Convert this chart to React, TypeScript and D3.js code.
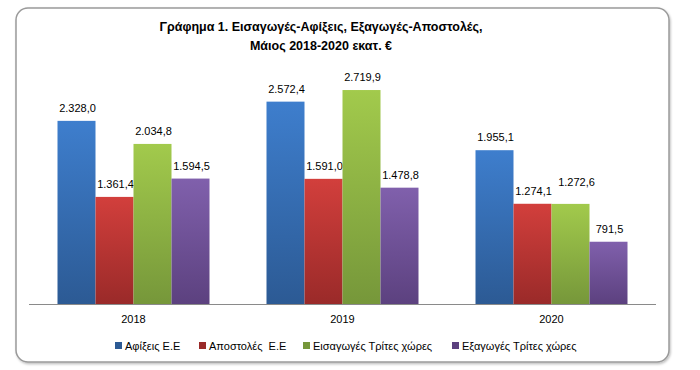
import React from "react";
import * as d3 from "d3";

const categories = ["2018", "2019", "2020"];
const seriesNames = ["Αφίξεις Ε.Ε", "Αποστολές  Ε.Ε", "Εισαγωγές Τρίτες χώρες", "Εξαγωγές Τρίτες χώρες"];
const afixeis = [2328.0, 2572.4, 1955.1];
const apostoles = [1361.4, 1591.0, 1274.1];
const eisagoges = [2034.8, 2719.9, 1272.6];
const exagoges = [1594.5, 1478.8, 791.5];
const titleLines = ["Γράφημα 1. Εισαγωγές-Αφίξεις, Εξαγωγές-Αποστολές,", "Μάιος 2018-2020 εκατ. €"];

const seriesValues = [afixeis, apostoles, eisagoges, exagoges];
const colors = [
  ["#3E7ECD", "#2C5A94"],
  ["#D23F3C", "#9A2A29"],
  ["#A2CA4C", "#76973A"],
  ["#8060AC", "#5C417F"],
];
const legendX = [115, 199, 303, 452];

const FONT = "'Liberation Sans', Arial, sans-serif";
const fmt = (v: number) => {
  const s = d3.format(",.1f")(v);
  return s.replace(/,/g, "#").replace(".", ",").replace(/#/g, ".");
};

export default function App() {
  const W = 700, H = 370;
  const x0 = d3.scaleBand().domain(categories).range([29, 656]).paddingInner(0).paddingOuter(0);
  const groupW = 152;
  const x1 = d3.scaleBand().domain(seriesNames).range([0, groupW]).padding(0);
  const y = d3.scaleLinear().domain([0, 3000]).range([304, 68]);
  const labelW = 37;

  return (
    <svg width={W} height={H} style={{ position: "absolute", left: 0, top: 0 }}>
      <defs>
        {colors.map((c, i) => (
          <linearGradient key={i} id={`g${i}`} x1="0" y1="0" x2="0" y2="1">
            <stop offset="0%" stopColor={c[0]} />
            <stop offset="100%" stopColor={c[1]} />
          </linearGradient>
        ))}
        <filter id="sh" x="-5%" y="-5%" width="110%" height="110%">
          <feDropShadow dx="1" dy="1.5" stdDeviation="1" floodColor="#000" floodOpacity="0.25" />
        </filter>
      </defs>
      <rect x={0} y={0} width={W} height={H} fill="#fff" />
      <rect x={16} y={8} width={653} height={354} rx={12} ry={12} fill="#fff" stroke="#9a9a9a" strokeWidth={1.5} filter="url(#sh)" />
      {titleLines.map((t, i) => (
        <text key={i} x={321} y={31 + i * 19} textAnchor="middle" fontFamily={FONT} fontWeight="bold" fontSize={12.5} fill="#000">
          {t}
        </text>
      ))}
      {categories.map((cat, ci) => {
        const gx = (x0(cat) as number) + (x0.bandwidth() - groupW) / 2;
        // compute label positions with a simple overlap-avoidance rule
        const labels: { x: number; y: number }[] = [];
        seriesNames.forEach((s, si) => {
          const v = seriesValues[si][ci];
          const bx = gx + (x1(s) as number);
          let lx = bx + x1.bandwidth() / 2 + 1;
          let ly = y(v) - 9;
          const prev = labels[si - 1];
          if (prev && Math.abs(lx - prev.x) < labelW + 3 && Math.abs(ly - prev.y) < 10) {
            lx += 5;
            ly = prev.y - 9;
          }
          labels.push({ x: lx, y: ly });
        });
        return (
          <g key={cat}>
            {seriesNames.map((s, si) => {
              const v = seriesValues[si][ci];
              const bx = gx + (x1(s) as number);
              const by = y(v);
              return (
                <g key={s}>
                  <rect x={bx} y={by} width={x1.bandwidth()} height={y(0) - by} fill={`url(#g${si})`} />
                  <text x={labels[si].x} y={labels[si].y} textAnchor="middle" fontFamily={FONT} fontSize={11} fill="#000">
                    {fmt(v)}
                  </text>
                </g>
              );
            })}
            <text x={(x0(cat) as number) + x0.bandwidth() / 2} y={323} textAnchor="middle" fontFamily={FONT} fontSize={11} fill="#000">
              {cat}
            </text>
          </g>
        );
      })}
      <line x1={29} x2={656} y1={304.5} y2={304.5} stroke="#8a8a8a" strokeWidth={1} />
      {seriesNames.map((s, i) => (
        <g key={s}>
          <rect x={legendX[i]} y={342} width={7} height={7} fill={colors[i][1]} />
          <text x={legendX[i] + 10} y={349.5} fontFamily={FONT} fontSize={11} fill="#000" style={{ whiteSpace: "pre" }}>
            {s}
          </text>
        </g>
      ))}
    </svg>
  );
}
